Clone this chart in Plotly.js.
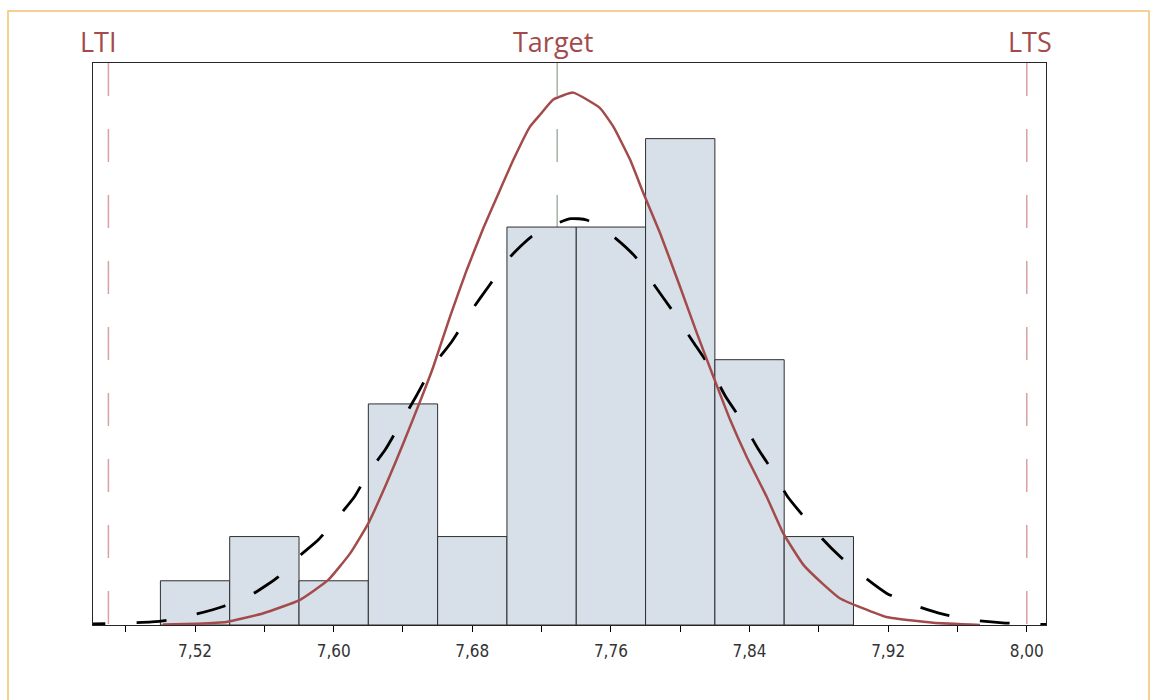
<!DOCTYPE html>
<html>
<head>
<meta charset="utf-8">
<script src="https://cdn.plot.ly/plotly-3.0.1.min.js"></script>
<style>
  html, body { margin: 0; padding: 0; background: #ffffff; }
  #chart { width: 1152px; height: 700px; }
</style>
</head>
<body>
<div id="chart"></div>
<script>
// ---- Data ----
const binCenters = [7.52, 7.56, 7.60, 7.64, 7.68, 7.72, 7.76, 7.80, 7.84, 7.88];
const binCounts  = [1, 2, 1, 5, 2, 9, 9, 11, 6, 2];

// Overall fit (black dashed curve)
const overallX = [7.451, 7.459, 7.495, 7.504, 7.521, 7.537, 7.554, 7.568, 7.579, 7.591,
                  7.602, 7.612, 7.620, 7.630, 7.639, 7.648, 7.657, 7.668, 7.679, 7.690,
                  7.702, 7.714, 7.730, 7.737, 7.746, 7.761, 7.774, 7.785, 7.796, 7.807,
                  7.817, 7.826, 7.836, 7.845, 7.854, 7.862, 7.872, 7.882, 7.893, 7.906,
                  7.919, 7.935, 7.951, 7.969, 7.986, 8.012];
const overallY = [0.01, 0.02, 0.07, 0.11, 0.25, 0.43, 0.72, 1.09, 1.52, 1.92,
                  2.42, 2.90, 3.44, 3.98, 4.59, 5.20, 5.84, 6.40, 7.08, 7.69,
                  8.33, 8.78, 9.10, 9.19, 9.16, 8.80, 8.33, 7.69, 7.08, 6.43,
                  5.84, 5.18, 4.59, 3.98, 3.44, 2.90, 2.42, 1.95, 1.52, 1.09,
                  0.72, 0.45, 0.25, 0.11, 0.05, 0.01];

// Within fit (red solid curve)
const withinX = [7.5015, 7.521, 7.538, 7.559, 7.5806, 7.5969, 7.6095, 7.6200, 7.6306, 7.6402,
                 7.6508, 7.6575, 7.6672, 7.6768, 7.6864, 7.6960, 7.7037, 7.7133, 7.7191, 7.7266,
                 7.7382, 7.7537, 7.7614, 7.7711, 7.7787, 7.7884, 7.7999, 7.8096, 7.8191, 7.8288,
                 7.8384, 7.8499, 7.8595, 7.8711, 7.8826, 7.8923, 7.919, 7.946, 7.973];
const withinY = [0.01, 0.03, 0.07, 0.26, 0.57, 1.02, 1.62, 2.30, 3.21, 4.11,
                 5.15, 5.84, 6.98, 8.03, 8.98, 9.84, 10.52, 11.27, 11.54, 11.88,
                 12.04, 11.69, 11.27, 10.52, 9.77, 8.86, 7.65, 6.60, 5.62, 4.64,
                 3.80, 2.90, 2.07, 1.36, 0.92, 0.60, 0.18, 0.05, 0.00];

// Specification limits and target
const specLabels = ['LTI', 'Target', 'LTS'];
const specValues = [7.47, 7.729, 8.00];

// Tick labels
const tickValues = [7.48, 7.52, 7.56, 7.60, 7.64, 7.68, 7.72, 7.76, 7.80, 7.84, 7.88, 7.92, 7.96, 8.00];
const tickLabels = ['', '7,52', '', '7,60', '', '7,68', '', '7,76', '', '7,84', '', '7,92', '', '8,00'];

// ---- Styles ----
const RED = '#a34b4b';
const specLineColors = ['#d9a2a2', '#a6b4a6', '#d9a2a2'];
const labelShift = [-10, -4, 3];

const traces = [
  {
    type: 'bar',
    x: binCenters,
    y: binCounts,
    width: 0.04,
    marker: { color: '#d7dfe8', line: { color: '#2e2e2e', width: 1 } },
    hoverinfo: 'x+y'
  },
  {
    type: 'scatter',
    mode: 'lines',
    x: overallX,
    y: overallY,
    line: { color: '#000000', width: 2.8, dash: '30px,31px', shape: 'spline', smoothing: 0.6 },
    hoverinfo: 'skip'
  },
  {
    type: 'scatter',
    mode: 'lines',
    x: withinX,
    y: withinY,
    line: { color: RED, width: 2.5, shape: 'spline', smoothing: 0.4 },
    hoverinfo: 'skip'
  }
];

const shapes = specValues.map((v, i) => ({
  type: 'line', xref: 'x', yref: 'paper',
  x0: v, x1: v, y0: 1, y1: 0,
  layer: 'below',
  line: { color: specLineColors[i], width: 1.5, dash: '33px,33px' }
}));

// outer light-orange frame
shapes.push({
  type: 'rect', xref: 'paper', yref: 'paper',
  x0: -0.0892, x1: 1.1081, y0: -0.17, y1: 1.0925,
  line: { color: '#f2c26e', width: 1.5 },
  fillcolor: 'rgba(0,0,0,0)',
  layer: 'below'
});

const annotations = specLabels.map((t, i) => ({
  text: t,
  x: specValues[i], xref: 'x',
  y: 1, yref: 'paper',
  xanchor: 'center', yanchor: 'middle',
  xshift: labelShift[i], yshift: 22,
  showarrow: false,
  font: { family: 'Open Sans, Lato, sans-serif', size: 27, color: RED }
}));

const layout = {
  width: 1152,
  height: 700,
  margin: { l: 93, r: 106, t: 63, b: 75 },
  paper_bgcolor: '#ffffff',
  plot_bgcolor: '#ffffff',
  showlegend: false,
  bargap: 0,
  xaxis: {
    range: [7.4611, 8.0111],
    tickmode: 'array',
    tickvals: tickValues,
    ticktext: tickLabels,
    ticks: 'outside',
    ticklen: 6,
    tickwidth: 1,
    tickcolor: '#000000',
    ticklabelstandoff: 4,
    showline: true,
    mirror: true,
    linecolor: '#262626',
    linewidth: 1.3,
    showgrid: false,
    zeroline: false,
    tickfont: { family: 'DejaVu Sans Condensed, Liberation Sans Narrow, Arial Narrow, sans-serif', size: 17, color: '#333333' }
  },
  yaxis: {
    range: [0, 12.71],
    showticklabels: false,
    ticks: '',
    showgrid: false,
    zeroline: false,
    showline: true,
    mirror: true,
    linecolor: '#262626',
    linewidth: 1.3
  },
  shapes: shapes,
  annotations: annotations
};

Plotly.newPlot('chart', traces, layout, { displayModeBar: false, staticPlot: true });
</script>
</body>
</html>
